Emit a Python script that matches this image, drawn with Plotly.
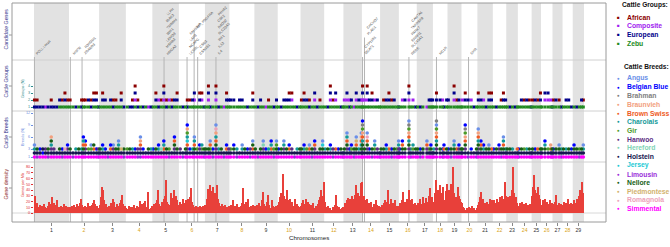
import plotly.graph_objects as go

# chromosome lengths (Mb)
chrom_names = [str(i) for i in range(1, 30)]
chrom_len = [158.5, 136.2, 121.0, 120.0, 120.1, 117.8, 110.7, 113.3, 105.5, 103.3,
             107.0, 87.2, 83.5, 82.4, 85.0, 81.0, 73.2, 65.8, 63.4, 72.0,
             69.9, 60.8, 52.5, 62.3, 42.4, 52.0, 45.6, 46.0, 51.1]

group_names = ["African", "Composite", "European", "Zebu"]
group_codes = ["A", "C", "E", "Z"]
group_colors = ["#8b0000", "#a020f0", "#00008b", "#228b22"]

breed_names = ["Angus", "Belgian Blue", "Brahman", "Braunvieh", "Brown Swiss", "Charolais",
               "Gir", "Hanwoo", "Hereford", "Holstein", "Jersey", "Limousin", "Nellore",
               "Piedmontese", "Romagnola", "Simmental"]
breed_codes = ["A", "B", "R", "V", "S", "C", "G", "K", "F", "H", "J", "L", "N", "P", "M", "I"]
breed_colors = ["#6a8fe8", "#0000ff", "#808080", "#f2a07e", "#ee5a24", "#139a9a",
                "#4c9a2a", "#5b2c83", "#7fd3b4", "#161650", "#22c9d4", "#9b30d9",
                "#165e16", "#d2b26e", "#eca3b9", "#ff00ff"]

# selection signature loci: (position Mb, groups bottom->top, breeds bottom->top)
loci_01 = [(2, "EA", "IHCA"), (14, "EA", "LHN"), (27, "E", "IHB"), (40, "E", "IBH"), (52, "C", "IHK"),
           (64, "E", "LHN"), (78, "EA", "IHKCNV"), (90, "E", "IHK"), (103, "E", "IH"), (116, "ZE", "IHN"),
           (128, "ZA", "LHB"), (140, "ZEA", "IHM"), (152, "ZA", "IHKB")]
loci_02 = [(5, "ZA", "IHN"), (18, "Z", "LH"), (31, "E", "IHC"), (44, "Z", "IHN"), (57, "EA", "IHC"),
           (65, "ZA", "IHNSCB"), (74, "ZA", "IHKSB"), (88, "ZE", "IHG"), (100, "EA", "IHGA"),
           (112, "ZEA", "IHSN"), (124, "ZEA", "IHB"), (133, "E", "LHK")]
loci_03 = [(4, "Z", "IHN"), (16, "ZEA", "IHCB"), (28, "ZE", "IHB"), (40, "Z", "LH"), (52, "ZE", "IHSB"),
           (64, "EA", "IHKA"), (76, "ZA", "IHN"), (88, "Z", "IHNCA"), (100, "ZEA", "IHP"), (112, "E", "LHN")]
loci_04 = [(6, "Z", "IHG"), (18, "E", "IHN"), (30, "EA", "IHC"), (42, "ZCEA", "IHB"), (54, "EA", "LHK"),
           (66, "Z", "LHKSVA"), (78, "E", "IHB"), (90, "Z", "IH"), (102, "C", "IHN"), (114, "E", "IHC")]
loci_05 = [(4, "Z", "IHB"), (16, "ZEA", "IHN"), (28, "EC", "IHCB"), (40, "ZA", "IHF"), (52, "ZCEA", "IHSCB"),
           (64, "EA", "IHN"), (76, "ZC", "LHG"), (88, "EA", "IH"), (100, "ZE", "IHKNSB"), (112, "ZEA", "IHN")]
loci_06 = [(6, "Z", "IHK"), (18, "E", "LH"), (30, "Z", "IHN"), (38, "EA", "IHKSJCGVB"), (50, "ZA", "IHB"),
           (62, "ZE", "IHC"), (70, "ZCE", "IHNSCA"), (82, "Z", "IHG"), (94, "ZEA", "IHKB"),
           (104, "ZCA", "IHGC"), (114, "E", "LHN")]
loci_07 = [(4, "Z", "IHN"), (16, "ZCEA", "IHN"), (24, "E", "IHGSA"), (36, "Z", "LHB"),
           (50, "ZCEA", "IHKNSCVMA"), (62, "E", "IHC"), (74, "Z", "IHN"), (86, "C", "LH"),
           (98, "ZEA", "IHSB"), (108, "ZE", "IHK")]
loci_08 = [(6, "ZE", "IHG"), (20, "ZE", "IHNB"), (34, "Z", "LHC"), (46, "ZE", "IH"), (58, "ZE", "IHCA"),
           (70, "Z", "IHN"), (82, "E", "IHB"), (94, "Z", "LHK"), (106, "ZEA", "IHSNA")]
loci_09 = [(4, "Z", "IHN"), (16, "E", "LH"), (28, "ZE", "IHN"), (40, "Z", "IHKFA"), (52, "C", "IHB"),
           (64, "ZA", "IHC"), (76, "Z", "IHSCB"), (88, "E", "LHG"), (100, "ZE", "IHNGA")]
loci_10 = [(4, "Z", "IHB"), (16, "E", "IHN"), (28, "ZE", "IHKCA"), (40, "ZE", "IHN"), (52, "ZEA", "IHSB"),
           (64, "ZCA", "IHK"), (76, "Z", "LH"), (88, "E", "IHC"), (100, "Z", "IHN")]
loci_11 = [(4, "ZA", "IHN"), (16, "ZEA", "IHCB"), (28, "ZE", "IHG"), (40, "EA", "IHSA"), (52, "Z", "LHN"),
           (64, "ZCE", "IHKSB"), (76, "E", "IH"), (88, "ZA", "IHN"), (100, "Z", "IHNJA")]
loci_12 = [(4, "Z", "IHC"), (16, "E", "IHN"), (28, "ZCEA", "IHCB"), (40, "ZA", "LHK"), (52, "ZCE", "IHS"),
           (64, "Z", "IHB"), (76, "E", "IHN"), (85, "Z", "LH")]
loci_13 = [(4, "ZC", "IHN"), (16, "ZCE", "IHKNSCA"), (28, "EC", "IHB"), (36, "ZE", "IHGB"), (48, "C", "LHN"),
           (58, "ZCE", "IHNSPA"), (70, "ZE", "IHC"), (81, "ZC", "IHNCSVA")]
loci_14 = [(3, "ZCEA", "IHKNCSVGRB"), (12, "ZC", "IHN"), (24, "ZCEA", "IHKNSMA"), (34, "ZE", "IHB"),
           (46, "ZEA", "LHN"), (58, "ZC", "IHGCA"), (70, "ZE", "IHK"), (80, "Z", "LH")]
loci_15 = [(4, "Z", "IHN"), (16, "ZA", "IHN"), (28, "ZE", "IHCB"), (40, "ZEA", "IHS"), (52, "ZA", "LHB"),
           (64, "ZE", "IHN"), (76, "Z", "IHG"), (84, "E", "IHKCA")]
loci_16 = [(4, "Z", "IHB"), (16, "ZC", "IHNSB"), (28, "ZE", "IHN"), (45.5, "ZCEA", "IHKNCSVGRA"),
           (54, "Z", "LHC"), (64, "ZC", "IHGC"), (76, "E", "IHN")]
loci_17 = [(4, "Z", "IHN"), (16, "E", "LHB"), (28, "Z", "IHN"), (46, "C", "IHKSA"), (56, "ZE", "IHG"),
           (64, "ZE", "IHNB"), (72, "ZE", "LH")]
loci_18 = [(4, "Z", "IHC"), (16, "ZEA", "IHKNCSVGAR"), (32, "ZE", "IHN"), (44, "ZC", "LHB"),
           (50, "E", "IHSB"), (62, "ZE", "IHN")]
loci_19 = [(4, "ZE", "IHB"), (16, "Z", "LHN"), (30, "ZCEA", "IHNCA"), (42, "ZA", "IHS"), (52, "ZE", "IHKB"),
           (62, "Z", "IHN")]
loci_20 = [(4, "ZC", "IHN"), (17, "ZEA", "IHKNSVGRB"), (30, "ZE", "LH"), (44, "ZC", "IHB"), (56, "E", "IH"),
           (68, "Z", "LHN")]
loci_21 = [(4, "ZEA", "IHKNCSVA"), (16, "ZE", "IHNSB"), (28, "ZC", "IHCB"), (40, "E", "IHN"),
           (52, "ZEA", "IHNA"), (64, "ZEA", "IHS")]
loci_22 = [(4, "Z", "IHB"), (16, "E", "IHN"), (28, "Z", "IHKB"), (38, "ZA", "LHN"), (48, "ZEA", "IHNSCA"),
           (58, "ZE", "IHC")]
loci_23 = [(4, "Z", "IHN"), (16, "E", "IHN"), (28, "Z", "IHC"), (40, "E", "IH"), (50, "Z", "IHS")]
loci_24 = [(4, "Z", "LHB"), (16, "ZE", "IHN"), (28, "ZA", "IHG"), (40, "ZE", "IHC"), (52, "ZA", "IHN"),
           (60, "E", "LH")]
loci_25 = [(4, "ZA", "IHN"), (16, "ZE", "IHB"), (28, "ZA", "IHS"), (40, "ZEA", "IHN")]
loci_26 = [(4, "Z", "IHN"), (18, "ZCE", "IHNCB"), (32, "ZCE", "IHG"), (44, "ZC", "IHSV"), (50, "E", "LHN")]
loci_27 = [(4, "ZA", "IHB"), (16, "ZE", "IHN"), (30, "ZA", "IHNA"), (40, "E", "LHC")]
loci_28 = [(4, "Z", "IHN"), (16, "ZE", "IHC"), (28, "ZE", "IHN"), (40, "E", "IHB")]
loci_29 = [(6, "Z", "IHNB"), (18, "E", "IHN"), (30, "Z", "LHG"), (40, "ZE", "IHN"), (48, "ZA", "IHCA")]

all_loci = [loci_01, loci_02, loci_03, loci_04, loci_05, loci_06, loci_07, loci_08, loci_09, loci_10,
            loci_11, loci_12, loci_13, loci_14, loci_15, loci_16, loci_17, loci_18, loci_19, loci_20,
            loci_21, loci_22, loci_23, loci_24, loci_25, loci_26, loci_27, loci_28, loci_29]

# gene density (genes per Mb), equal-width windows along each chromosome
dens_01 = [30, 12, 18, 8, 10, 14, 9, 12, 7, 15, 10, 8, 13, 20, 11, 16, 27, 12, 18, 9, 14, 22, 10, 8, 12, 7, 11, 16, 9, 13, 8, 10]
dens_02 = [10, 8, 12, 9, 14, 11, 8, 16, 12, 18, 25, 14, 10, 9, 13, 8, 11, 17, 12, 9, 14, 18, 22, 15, 10, 12, 9]
dens_03 = [14, 28, 46, 40, 22, 12, 16, 10, 13, 9, 18, 14, 25, 20, 11, 9, 15, 12, 18, 22, 31, 16, 10, 12]
dens_04 = [9, 7, 12, 8, 10, 6, 11, 14, 8, 9, 12, 10, 21, 13, 16, 9, 18, 21, 11, 8, 37, 7, 9, 12]
dens_05 = [10, 15, 12, 18, 22, 40, 15, 12, 20, 14, 25, 30, 58, 20, 16, 14, 35, 18, 26, 40, 16, 30, 22, 12]
dens_06 = [14, 20, 16, 25, 12, 18, 22, 15, 24, 19, 28, 43, 20, 14, 10, 12, 8, 11, 9, 13, 10, 8, 12, 10]
dens_07 = [14, 25, 42, 30, 48, 20, 38, 45, 22, 35, 48, 25, 18, 12, 10, 16, 12, 8, 14, 10, 8, 12]
dens_08 = [10, 14, 12, 22, 9, 12, 8, 15, 11, 9, 13, 18, 43, 16, 12, 20, 14, 25, 10, 12, 8, 14, 11]
dens_09 = [12, 8, 14, 10, 18, 12, 22, 37, 15, 10, 13, 20, 31, 14, 9, 22, 12, 10, 8, 13, 10]
dens_10 = [14, 20, 28, 35, 68, 30, 18, 24, 40, 22, 16, 25, 14, 20, 12, 25, 10, 15, 12, 9, 11]
dens_11 = [12, 18, 22, 15, 25, 12, 20, 16, 10, 14, 12, 18, 9, 13, 11, 16, 22, 28, 40, 30, 54]
dens_12 = [20, 10, 8, 12, 7, 9, 6, 10, 8, 14, 31, 12, 8, 10, 7, 9, 11]
dens_13 = [10, 18, 12, 22, 26, 15, 24, 30, 18, 25, 32, 48, 22, 35, 20, 30, 52]
dens_14 = [54, 30, 22, 16, 25, 12, 18, 14, 20, 10, 15, 12, 22, 14, 10, 12]
dens_15 = [10, 14, 12, 18, 22, 15, 20, 40, 16, 25, 12, 18, 14, 22, 10, 12, 9]
dens_16 = [12, 18, 22, 37, 15, 20, 14, 25, 18, 40, 22, 25, 16, 12, 18, 14]
dens_17 = [12, 18, 14, 25, 15, 28, 18, 12, 26, 16, 20, 30, 43, 18, 28]
dens_18 = [20, 35, 58, 22, 40, 25, 48, 20, 35, 45, 22, 38, 50]
dens_19 = [25, 40, 22, 50, 30, 80, 35, 28, 20, 45, 30, 25, 20]
dens_20 = [18, 10, 8, 6, 9, 7, 10, 6, 8, 12, 7, 9, 6, 8]
dens_21 = [14, 20, 28, 37, 22, 25, 18, 14, 20, 12, 16, 24, 18, 22]
dens_22 = [15, 22, 18, 25, 16, 20, 28, 18, 30, 24, 54, 30]
dens_23 = [20, 28, 22, 30, 25, 40, 80, 35, 22, 28, 18]
dens_24 = [12, 18, 14, 20, 10, 16, 12, 18, 14, 10, 15, 12]
dens_25 = [30, 45, 66, 40, 35, 28, 46, 32, 25]
dens_26 = [14, 22, 18, 25, 12, 20, 16, 22, 14, 18]
dens_27 = [12, 16, 20, 31, 14, 18, 12, 15, 10]
dens_28 = [14, 20, 12, 18, 25, 15, 12, 18, 10]
dens_29 = [16, 22, 18, 25, 20, 30, 40, 28, 54, 35]

gene_density = [dens_01, dens_02, dens_03, dens_04, dens_05, dens_06, dens_07, dens_08, dens_09, dens_10,
                dens_11, dens_12, dens_13, dens_14, dens_15, dens_16, dens_17, dens_18, dens_19, dens_20,
                dens_21, dens_22, dens_23, dens_24, dens_25, dens_26, dens_27, dens_28, dens_29]

# candidate genes
gene_chr = [1, 2, 2, 5, 6, 6, 6, 7, 14, 14, 16, 18, 20]
gene_pos = [2.0, 6.0, 59.0, 53.0, 37.0, 69.0, 85.0, 50.0, 3.0, 12.0, 45.5, 16.0, 32.0]
gene_level = [0, 0, 0, 0, 0, 4, 0, 0, 0, 3, 0, 0, 0]
gene_labels = [["POLL Locus"], ["MSTN"], ["ZRANB3", "R3HDM1"],
               ["HMGA2", "MSRB3", "LEMD3", "WIF1", "TMBIM4", "IRAK3", "LLPH"],
               ["LCORL", "NCAPG", "LAP3", "FAM184B"], ["KIT_PDGFRA"], ["CSN1S1", "CSN3"],
               ["IL4", "IL13", "IRF1", "SLC22A5", "RAD50", "CSF2", "P4HA2"],
               ["DGAT1", "CYP11B1"], ["PLAG1", "CHCHD7"],
               ["RERE", "SLC45A1", "ERRFI1", "PARK7", "TNFRSF9", "CAMTA1"],
               ["MC1R"], ["GHR"]]

# ---- page geometry ----
W, H = 670, 247
ML, MR, MT, MB = 12, 64, 3, 25
PW, PH = W - ML - MR, H - MT - MB
FONT = "Arial, Liberation Sans, sans-serif"


def px_x(px):
    return (px - ML) / PW


def px_y(py):
    return (H - MB - py) / PH


offsets = []
acc = 0.0
for L in chrom_len:
    offsets.append(acc)
    acc += L
total = acc
pad = 0.04 * total

fig = go.Figure()

# gene density bars
dx, dy, dw = [], [], []
for ci, vals in enumerate(gene_density):
    w = chrom_len[ci] / len(vals)
    for i, v in enumerate(vals):
        dx.append(offsets[ci] + (i + 0.5) * w)
        dy.append(v)
        dw.append(w)
fig.add_trace(go.Bar(x=dx, y=dy, width=dw, marker=dict(color="#e8403a", line=dict(width=0)),
                     yaxis="y", showlegend=False, hoverinfo="skip"))

# cattle groups / breeds stacks
gx = {c: [] for c in group_codes}
gy = {c: [] for c in group_codes}
bx = {c: [] for c in breed_codes}
by = {c: [] for c in breed_codes}
for ci, loci in enumerate(all_loci):
    for pos, grp, brd in loci:
        x = offsets[ci] + pos
        for r, c in enumerate(grp, start=1):
            gx[c].append(x)
            gy[c].append(r)
        for r, c in enumerate(brd, start=1):
            bx[c].append(x)
            by[c].append(r)

for c, col in zip(group_codes, group_colors):
    fig.add_trace(go.Scatter(x=gx[c], y=gy[c], mode="markers", yaxis="y3",
                             marker=dict(symbol="square", size=3, color=col, line=dict(width=0)),
                             showlegend=False, hoverinfo="skip"))
for c, col in zip(breed_codes, breed_colors):
    fig.add_trace(go.Scatter(x=bx[c], y=by[c], mode="markers", yaxis="y2",
                             marker=dict(symbol="circle", size=3.6, color=col, line=dict(width=0)),
                             showlegend=False, hoverinfo="skip"))

shapes = []
# alternating chromosome bands
for ci, L in enumerate(chrom_len):
    if ci % 2 == 0:
        shapes.append(dict(type="rect", xref="x", yref="paper", x0=offsets[ci], x1=offsets[ci] + L,
                           y0=0, y1=1, fillcolor="#e2e2e2", line=dict(width=0), layer="below"))
# panel separators
for py in (60, 111, 162):
    shapes.append(dict(type="line", xref="paper", yref="paper", x0=0, x1=1, y0=px_y(py), y1=px_y(py),
                       line=dict(color="#d0d0d0", width=1), layer="below"))
shapes.append(dict(type="line", xref="paper", yref="y", x0=0, x1=1, y0=0, y1=0,
                   line=dict(color="#d8d8d8", width=1), layer="below"))

annotations = []
# candidate genes
for c, p, lev, labs in zip(gene_chr, gene_pos, gene_level, gene_labels):
    x = offsets[c - 1] + p
    shapes.append(dict(type="line", xref="x", yref="paper", x0=x, x1=x, y0=0,
                       y1=px_y(57 - 6.5 * lev), line=dict(color="#b4b4b4", width=1), layer="below"))
    for k, lab in enumerate(labs):
        annotations.append(dict(x=x, y=px_y(57 - 6.5 * (lev + k)), xref="x", yref="paper", text=lab,
                                textangle=-45, xanchor="left", yanchor="bottom", showarrow=False,
                                borderpad=0, font=dict(size=3.5, color="#444", family=FONT)))

# frame and outer ticks
shapes.append(dict(type="rect", xref="paper", yref="paper", x0=0, x1=1, y0=0, y1=1,
                   line=dict(color="#9a9a9a", width=1), layer="above"))
for py in (35, 86, 137, 188):
    shapes.append(dict(type="line", xref="paper", yref="paper", x0=px_x(9), x1=px_x(12),
                       y0=px_y(py), y1=px_y(py), line=dict(color="#9a9a9a", width=1)))

# panel titles
outer = [("Candidate Genes", 29, "#34348a"), ("Cattle Groups", 82, "#34348a"),
         ("Cattle Breeds", 133, "#34348a"), ("Gene density", 184, "#8b1c1c")]
for txt, py, col in outer:
    annotations.append(dict(x=px_x(5.5), y=px_y(py), xref="paper", yref="paper", text=txt, textangle=-90,
                            showarrow=False, xanchor="center", yanchor="middle",
                            font=dict(size=5.2, color=col, family=FONT)))
inner = [("Groups (N)", 88, "#2e8b8b"), ("Breeds (N)", 137, "#6f8fe0"), ("Genes per Mb", 185, "#e03030")]
for txt, py, col in inner:
    annotations.append(dict(x=px_x(23), y=px_y(py), xref="paper", yref="paper", text=txt, textangle=-90,
                            showarrow=False, xanchor="center", yanchor="middle",
                            font=dict(size=3.8, color=col, family=FONT)))

annotations.append(dict(x=px_x(309), y=px_y(242.5), xref="paper", yref="paper", text="Chromosomes",
                        showarrow=False, font=dict(size=6.2, color="#222", family=FONT)))

# legends
annotations.append(dict(x=px_x(620), y=px_y(5), xref="paper", yref="paper", text="<b>Cattle Groups:</b>",
                        showarrow=False, xanchor="left", yanchor="middle",
                        font=dict(size=6.6, color="#111", family=FONT)))
for i, (n, col) in enumerate(zip(group_names, group_colors)):
    py = 17.3 + 8.65 * i
    annotations.append(dict(x=px_x(618), y=px_y(py), xref="paper", yref="paper", text="■",
                            showarrow=False, xanchor="center", yanchor="middle",
                            font=dict(size=4.5, color=col, family=FONT)))
    annotations.append(dict(x=px_x(625), y=px_y(py), xref="paper", yref="paper", text="<b>" + n + "</b>",
                            showarrow=False, xanchor="left", yanchor="middle",
                            font=dict(size=6.8, color=col, family=FONT)))
annotations.append(dict(x=px_x(622), y=px_y(66.7), xref="paper", yref="paper", text="<b>Cattle Breeds:</b>",
                        showarrow=False, xanchor="left", yanchor="middle",
                        font=dict(size=6.6, color="#111", family=FONT)))
for i, (n, col) in enumerate(zip(breed_names, breed_colors)):
    py = 78.3 + 8.7 * i
    annotations.append(dict(x=px_x(618), y=px_y(py), xref="paper", yref="paper", text="●",
                            showarrow=False, xanchor="center", yanchor="middle",
                            font=dict(size=4.5, color=col, family=FONT)))
    annotations.append(dict(x=px_x(625), y=px_y(py), xref="paper", yref="paper", text="<b>" + n + "</b>",
                            showarrow=False, xanchor="left", yanchor="middle",
                            font=dict(size=6.8, color=col, family=FONT)))

tick_vals = [offsets[i] + chrom_len[i] / 2 for i in range(len(chrom_len))]
tick_text = ['<span style="color:%s">%s</span>' % ("#333" if i % 2 == 0 else "#d9a520", n)
             for i, n in enumerate(chrom_names)]

axis_pos = px_x(33)
fig.update_layout(
    width=W, height=H,
    margin=dict(l=ML, r=MR, t=MT, b=MB),
    paper_bgcolor="white", plot_bgcolor="white",
    font=dict(family=FONT),
    bargap=0,
    xaxis=dict(range=[-pad, total + pad], domain=[0, 1], anchor="y", showgrid=False, zeroline=False,
               showline=False, tickvals=tick_vals, ticktext=tick_text, ticks="outside", ticklen=3,
               tickcolor="#888", tickfont=dict(size=5.2, family=FONT)),
    yaxis=dict(domain=[0, px_y(162)], range=[-15.65, 88.7], anchor="free", position=axis_pos,
               tickvals=list(range(0, 90, 10)), showgrid=False, zeroline=False, showline=False,
               ticks="outside", ticklen=2, tickcolor="#e03030",
               tickfont=dict(size=3.8, color="#e03030", family=FONT)),
    yaxis2=dict(domain=[px_y(162), px_y(111)], range=[-0.25, 12.5], anchor="free", position=axis_pos,
                tickvals=[1, 3, 6, 9, 12], showgrid=False, zeroline=False, showline=False,
                ticks="outside", ticklen=2, tickcolor="#6f8fe0",
                tickfont=dict(size=3.8, color="#6f8fe0", family=FONT)),
    yaxis3=dict(domain=[px_y(111), px_y(60)], range=[0.4286, 7.714], anchor="free", position=axis_pos,
                tickvals=[1, 2, 3, 4], showgrid=False, zeroline=False, showline=False,
                ticks="outside", ticklen=2, tickcolor="#2e8b8b",
                tickfont=dict(size=3.8, color="#2e8b8b", family=FONT)),
    shapes=shapes,
    annotations=annotations,
)

# the page body has a default margin; drop it so the figure sits at the window origin
fig.write_html("out.html", config={"displayModeBar": False},
               post_script="document.body.style.margin='0';")
